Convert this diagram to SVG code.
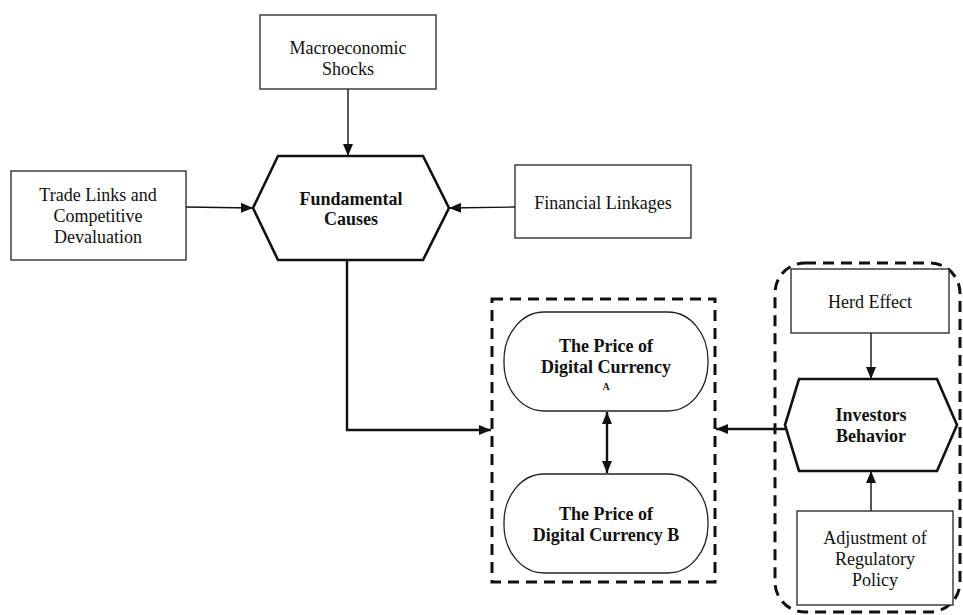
<svg xmlns="http://www.w3.org/2000/svg" width="963" height="615" viewBox="0 0 963 615">
<style>
.box{fill:#fff;stroke:#222;stroke-width:1.3}
.hex{fill:#fff;stroke:#111;stroke-width:2.6}
.pill{fill:#fff;stroke:#222;stroke-width:1.3}
.dash{fill:none;stroke:#111;stroke-width:3;stroke-dasharray:11 7}
.t{font-family:"Liberation Serif","Times New Roman",serif;font-size:18px;fill:#111;text-anchor:middle}
.b{font-weight:bold}
.ln{fill:none;stroke:#111;stroke-width:1.4}
.lnb{fill:none;stroke:#111;stroke-width:2.4}
</style>
<defs>
<marker id="ah" viewBox="0 0 12 10" refX="12" refY="5" markerWidth="12" markerHeight="10" markerUnits="userSpaceOnUse" orient="auto-start-reverse">
<path d="M0,0 L12,5 L0,10 z" fill="#111"/>
</marker>
</defs>
<rect width="963" height="615" fill="#fff"/>

<g id="connectors">
<line class="ln" x1="348" y1="89" x2="348" y2="156" marker-end="url(#ah)"/>
<line class="ln" x1="186" y1="207" x2="253" y2="208" marker-end="url(#ah)"/>
<line class="ln" x1="515" y1="207" x2="449" y2="208" marker-end="url(#ah)"/>
<polyline class="lnb" points="347,260 347,430 491,430" marker-end="url(#ah)"/>
<line class="lnb" x1="607" y1="412" x2="607" y2="473" marker-start="url(#ah)" marker-end="url(#ah)"/>
<line class="lnb" x1="785" y1="429" x2="716" y2="429" marker-end="url(#ah)"/>
<line class="ln" x1="871" y1="333" x2="871" y2="379" marker-end="url(#ah)"/>
<line class="ln" x1="871" y1="511" x2="871" y2="471" marker-end="url(#ah)"/>
</g>

<g id="group-prices">
<rect class="dash" x="492" y="299" width="223" height="283"/>
</g>
<g id="group-investors">
<rect class="dash" x="775" y="263" width="185" height="349" rx="30" ry="30"/>
</g>

<g id="macro">
<rect class="box" x="260" y="15" width="176" height="74"/>
<text class="t" x="348" y="54">Macroeconomic</text>
<text class="t" x="348" y="75">Shocks</text>
</g>

<g id="trade">
<rect class="box" x="11" y="171" width="175" height="89"/>
<text class="t" x="98" y="201">Trade Links and</text>
<text class="t" x="98" y="222">Competitive</text>
<text class="t" x="98" y="243">Devaluation</text>
</g>

<g id="financial">
<rect class="box" x="515" y="165" width="176" height="73"/>
<text class="t" x="603" y="209">Financial Linkages</text>
</g>

<g id="fundamental">
<polygon class="hex" points="278,156 423,156 449,208 423,260 278,260 253,208"/>
<text class="t b" x="351" y="205">Fundamental</text>
<text class="t b" x="351" y="225">Causes</text>
</g>

<g id="priceA">
<rect class="pill" x="504" y="312" width="204" height="99" rx="40" ry="48"/>
<text class="t b" x="606" y="352">The Price of</text>
<text class="t b" x="606" y="373">Digital Currency</text>
<text class="t b" x="606" y="390" style="font-size:10px">A</text>
</g>

<g id="priceB">
<rect class="pill" x="504" y="474" width="204" height="99" rx="40" ry="48"/>
<text class="t b" x="606" y="520">The Price of</text>
<text class="t b" x="606" y="541">Digital Currency B</text>
</g>

<g id="herd">
<rect class="box" x="791" y="269" width="158" height="64"/>
<text class="t" x="870" y="308">Herd Effect</text>
</g>

<g id="investors">
<polygon class="hex" points="799,379 937,379 957,425 937,471 799,471 785,425"/>
<text class="t b" x="871" y="421">Investors</text>
<text class="t b" x="871" y="442">Behavior</text>
</g>

<g id="adjustment">
<rect class="box" x="797" y="511" width="156" height="94"/>
<text class="t" x="875" y="544">Adjustment of</text>
<text class="t" x="875" y="565">Regulatory</text>
<text class="t" x="875" y="586">Policy</text>
</g>
</svg>
